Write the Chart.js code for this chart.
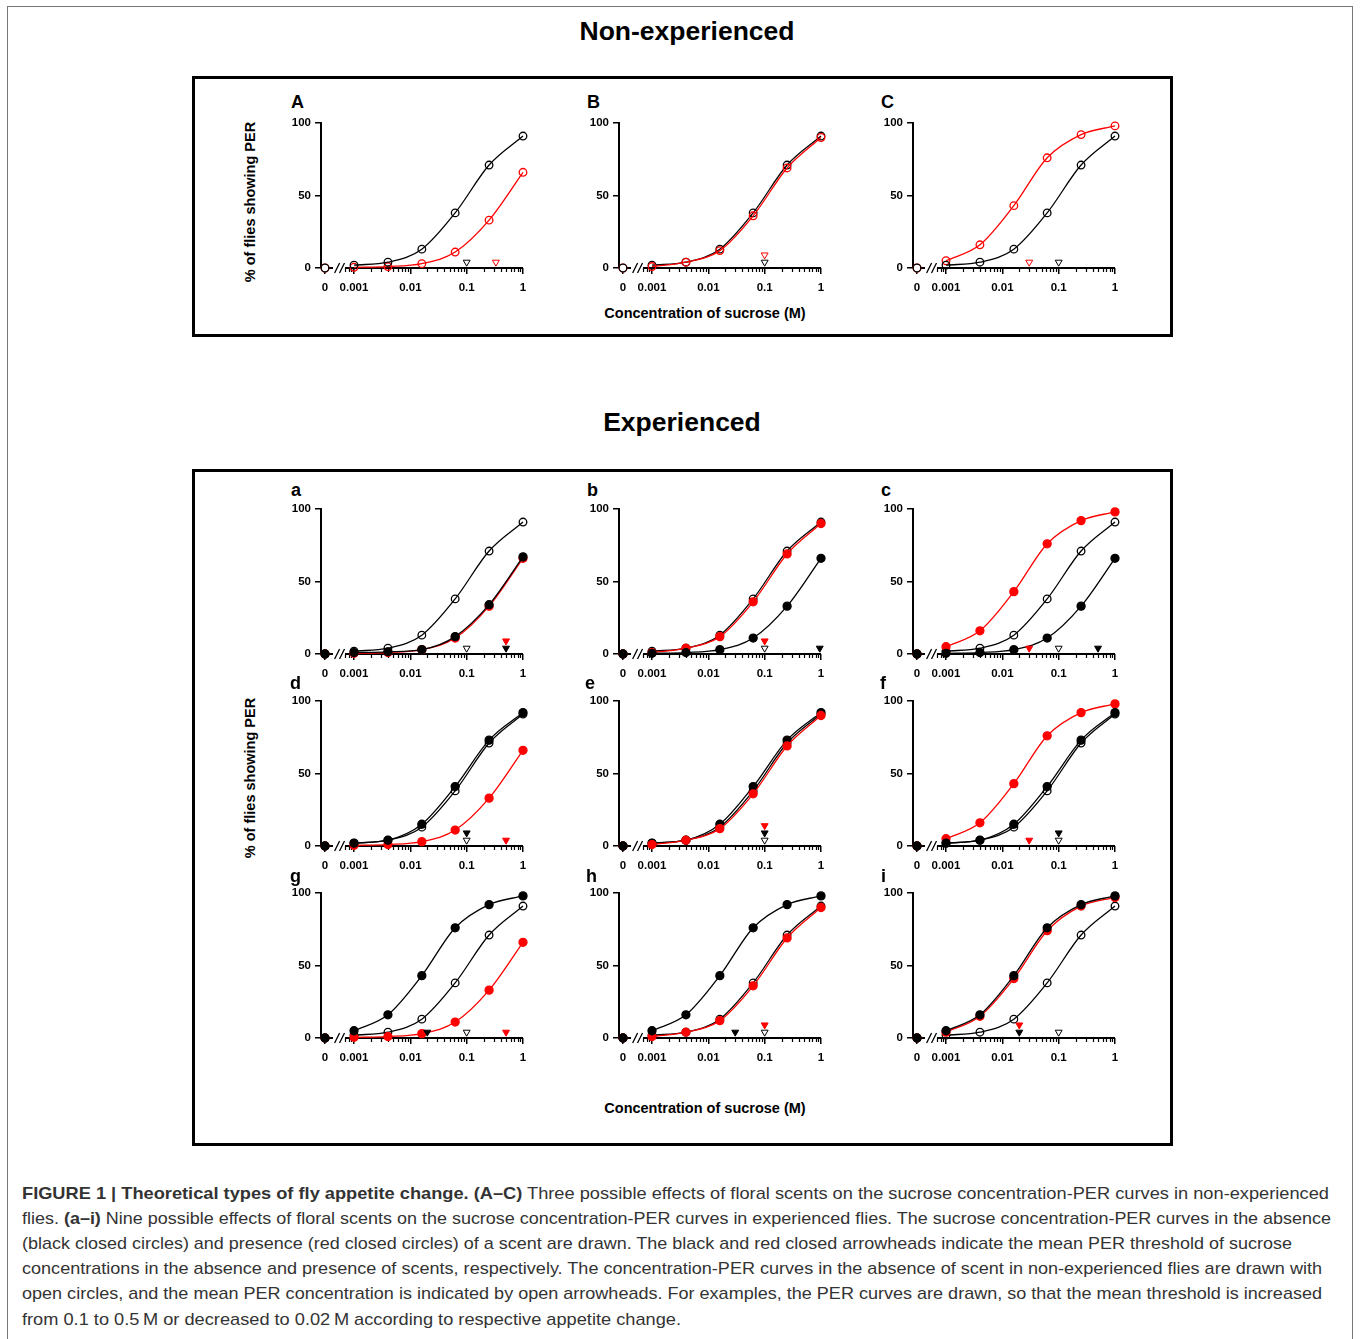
<!DOCTYPE html>
<html>
<head>
<meta charset="utf-8">
<script src="https://cdn.jsdelivr.net/npm/chart.js@4.4.0/dist/chart.umd.min.js"></script>
<style>
  body { margin: 0; background: #fff; font-family: "Liberation Sans", Arial, sans-serif; }
  #page { position: relative; width: 1360px; height: 1339px; overflow: hidden; }
  .frame { position: absolute; left: 7px; top: 6px; width: 1346px; height: 1345px; border: 1px solid #777; box-sizing: border-box; }
  .box { position: absolute; border: 3px solid #000; box-sizing: border-box; }
  .txt { position: absolute; white-space: nowrap; line-height: 1; color: #000; }
  .title { font-weight: bold; font-size: 26.5px; transform: translateX(-50%); }
  .letter { font-weight: bold; font-size: 18px; }
  .axtitle { font-weight: bold; font-size: 14.5px; transform: translateX(-50%); }
  .ytitle { font-weight: bold; font-size: 14.5px; transform: translate(-50%, -50%) rotate(-90deg); }
  .cap { font-size: 17px; color: #333; transform-origin: 0 0; }
  canvas { position: absolute; }
</style>
</head>
<body>
<div id="page">
  <div class="frame"></div>
  <div class="box" style="left:192px;top:76px;width:981px;height:261px"></div>
  <div class="box" style="left:192px;top:469px;width:981px;height:677px"></div>

  <div class="txt title" style="left:687px;top:18px">Non-experienced</div>
  <div class="txt title" style="left:682px;top:409px">Experienced</div>

  <div class="txt ytitle" style="left:250px;top:202px">% of flies showing PER</div>
  <div class="txt ytitle" style="left:250px;top:778px">% of flies showing PER</div>
  <div class="txt axtitle" style="left:705px;top:306px">Concentration of sucrose (M)</div>
  <div class="txt axtitle" style="left:705px;top:1101px">Concentration of sucrose (M)</div>

  <div id="caption"></div>
</div>

<script>
// concentrations (M), 0 is drawn left of the axis break
const conc = [0, 0.001, 0.004, 0.016, 0.0625, 0.25, 1];

// % of flies showing PER
const naive       = [0, 2, 4, 13, 38, 71, 91];   // threshold 0.1 M
const naiveUp     = [0, 2, 4, 15, 41, 73, 92];
const naiveDown   = [0, 1, 4, 12, 36, 69, 90];
const raised      = [0, 0.5, 1, 3, 11, 33, 66];  // threshold 0.5 M
const raisedUp    = [0, 1, 1.5, 3, 12, 34, 67];
const lowered     = [0, 5, 16, 43, 76, 92, 98];  // threshold 0.02 M
const loweredDown = [0, 4, 15, 41, 74, 91, 97];

const xTickConc = [0, 0.001, 0.01, 0.1, 1];
const xTickText = ['0', '0.001', '0.01', '0.1', '1'];
const yTicks = [0, 50, 100];

const RED = '#ff0000';
const BLK = '#000000';

// series: [style, colour, values]; arrows: [threshold, style, colour, stack level]
const panels = [
  { id: 'A', col: 0, row: 0,
    series: [['open', BLK, naive], ['open', RED, raised]],
    arrows: [[0.1, 'open', BLK, 0], [0.33, 'open', RED, 0]] },
  { id: 'B', col: 1, row: 0,
    series: [['open', RED, naiveDown], ['open', BLK, naive]],
    arrows: [[0.1, 'open', BLK, 0], [0.1, 'open', RED, 1]] },
  { id: 'C', col: 2, row: 0,
    series: [['open', BLK, naive], ['open', RED, lowered]],
    arrows: [[0.1, 'open', BLK, 0], [0.03, 'open', RED, 0]] },

  { id: 'a', col: 0, row: 1,
    series: [['closed', BLK, raisedUp], ['closed', RED, raised], ['open', BLK, naive]],
    arrows: [[0.1, 'open', BLK, 0], [0.5, 'closed', BLK, 0], [0.5, 'closed', RED, 1]] },
  { id: 'b', col: 1, row: 1,
    series: [['closed', BLK, raised], ['closed', RED, naiveDown], ['open', BLK, naive]],
    arrows: [[0.1, 'open', BLK, 0], [0.1, 'closed', RED, 1], [0.95, 'closed', BLK, 0]] },
  { id: 'c', col: 2, row: 1,
    series: [['closed', BLK, raised], ['closed', RED, lowered], ['open', BLK, naive]],
    arrows: [[0.1, 'open', BLK, 0], [0.03, 'closed', RED, 0], [0.5, 'closed', BLK, 0]] },

  { id: 'd', col: 0, row: 2,
    series: [['closed', BLK, naiveUp], ['closed', RED, raised], ['open', BLK, naive]],
    arrows: [[0.1, 'open', BLK, 0], [0.1, 'closed', BLK, 1], [0.5, 'closed', RED, 0]] },
  { id: 'e', col: 1, row: 2,
    series: [['closed', RED, naiveDown], ['closed', BLK, naiveUp], ['open', BLK, naive]],
    arrows: [[0.1, 'open', BLK, 0], [0.1, 'closed', BLK, 1], [0.1, 'closed', RED, 2]] },
  { id: 'f', col: 2, row: 2,
    series: [['closed', BLK, naiveUp], ['closed', RED, lowered], ['open', BLK, naive]],
    arrows: [[0.1, 'open', BLK, 0], [0.1, 'closed', BLK, 1], [0.03, 'closed', RED, 0]] },

  { id: 'g', col: 0, row: 3,
    series: [['closed', BLK, lowered], ['closed', RED, raised], ['open', BLK, naive]],
    arrows: [[0.1, 'open', BLK, 0], [0.02, 'closed', BLK, 0], [0.5, 'closed', RED, 0]] },
  { id: 'h', col: 1, row: 3,
    series: [['closed', BLK, lowered], ['closed', RED, naiveDown], ['open', BLK, naive]],
    arrows: [[0.1, 'open', BLK, 0], [0.1, 'closed', RED, 1], [0.03, 'closed', BLK, 0]] },
  { id: 'i', col: 2, row: 3,
    series: [['closed', BLK, lowered], ['closed', RED, loweredDown], ['open', BLK, naive]],
    arrows: [[0.1, 'open', BLK, 0], [0.02, 'closed', BLK, 0], [0.02, 'closed', RED, 1]] }
];

// layout
const colLeft = [321, 619, 913];
const rowTop = [123, 509, 701, 893];
const letterLeft = [[291, 587, 881], [291, 587, 881], [290, 585, 880], [290, 586, 881]];
const letterBase = [108, 496, 689, 882];
const PLOT_W = 202, PLOT_H = 145, PAD_L = 60, PAD_T = 12, PAD_R = 14, AX_H = 33;
const ARROW_Y = [4, 9, 14];

const X_MIN = -3.586;
const ZERO_POS = -3.515;
function xPos(c) { return c === 0 ? ZERO_POS : Math.log10(c); }

const FONT = '"Liberation Sans", Arial, sans-serif';

// x axis with break and log minor ticks
const brokenAxis = {
  id: 'brokenAxis',
  beforeDatasetsDraw(chart) {
    const { ctx, chartArea } = chart;
    const x = chart.scales.x;
    const y0 = chartArea.bottom;
    ctx.save();
    ctx.strokeStyle = '#000';
    ctx.lineWidth = 2;
    ctx.beginPath();
    ctx.moveTo(chartArea.left, y0);
    ctx.lineTo(x.getPixelForValue(-3.373), y0);
    ctx.moveTo(x.getPixelForValue(-3.16), y0);
    ctx.lineTo(chartArea.right, y0);
    ctx.stroke();
    ctx.lineWidth = 1.3;
    ctx.beginPath();
    [-3.30, -3.213].forEach(v => {
      const px = x.getPixelForValue(v);
      ctx.moveTo(px - 2.5, y0 + 5);
      ctx.lineTo(px + 2.5, y0 - 5);
    });
    ctx.stroke();
    ctx.lineWidth = 1.2;
    ctx.beginPath();
    for (let d = -4; d < 0; d++) {
      for (let k = 2; k < 10; k++) {
        const v = d + Math.log10(k);
        if (v < -3.16 || v > 0) continue;
        const px = Math.round(x.getPixelForValue(v)) + 0.5;
        ctx.moveTo(px, y0);
        ctx.lineTo(px, y0 + 4);
      }
    }
    ctx.stroke();
    ctx.restore();
  }
};

function curveSet(style, color, ys) {
  const pts = [];
  conc.forEach((c, i) => { if (c > 0) pts.push({ x: xPos(c), y: ys[i] }); });
  return {
    data: pts,
    showLine: true,
    borderColor: color,
    borderWidth: 1.3,
    cubicInterpolationMode: 'monotone',
    pointRadius: style === 'open' ? 3.8 : 4,
    pointBorderWidth: 1.3,
    pointBorderColor: color,
    pointBackgroundColor: style === 'open' ? 'rgba(0,0,0,0)' : color,
    clip: false
  };
}

function zeroSet(style, color, ys) {
  return {
    data: [{ x: xPos(conc[0]), y: ys[0] }],
    showLine: false,
    pointRadius: style === 'open' ? 3.8 : 4,
    pointBorderWidth: 1.3,
    pointBorderColor: color,
    pointBackgroundColor: style === 'open' ? '#fff' : color,
    clip: false
  };
}

function arrowSet(a) {
  const [thr, style, color, level] = a;
  return {
    data: [{ x: xPos(thr), y: ARROW_Y[level] }],
    showLine: false,
    pointStyle: 'triangle',
    pointRotation: 180,
    pointRadius: 4,
    pointBorderWidth: 1,
    pointBorderColor: color,
    pointBackgroundColor: style === 'open' ? '#fff' : color,
    clip: false
  };
}

const page = document.getElementById('page');

panels.forEach(p => {
  const lt = document.createElement('div');
  lt.className = 'txt letter';
  lt.textContent = p.id;
  lt.style.left = letterLeft[p.row][p.col] + 'px';
  lt.style.top = (letterBase[p.row] - 15.2) + 'px';
  page.appendChild(lt);

  const cv = document.createElement('canvas');
  cv.width = PAD_L + PLOT_W + PAD_R;
  cv.height = PAD_T + PLOT_H + AX_H;
  cv.style.left = (colLeft[p.col] - PAD_L) + 'px';
  cv.style.top = (rowTop[p.row] - PAD_T) + 'px';
  page.appendChild(cv);

  // the 0 M point: black markers sit on top of red ones
  const zeroOrder = p.series.slice().sort((s, t) => (s[1] === BLK ? 0 : 1) - (t[1] === BLK ? 0 : 1));

  const datasets = [];
  p.arrows.forEach(a => datasets.push(arrowSet(a)));
  zeroOrder.forEach(s => datasets.push(zeroSet(...s)));
  p.series.forEach(s => datasets.push(curveSet(...s)));

  new Chart(cv, {
    type: 'scatter',
    data: { datasets: datasets },
    options: {
      responsive: false,
      animation: false,
      events: [],
      layout: { padding: { top: PAD_T, right: PAD_R, left: 0, bottom: 0 } },
      plugins: { legend: { display: false }, tooltip: { enabled: false } },
      scales: {
        x: {
          type: 'linear',
          min: X_MIN,
          max: 0,
          afterBuildTicks: s => { s.ticks = xTickConc.map(c => ({ value: xPos(c) })); },
          afterFit: s => { s.height = AX_H; },
          ticks: {
            autoSkip: false, maxRotation: 0, minRotation: 0, padding: 7, color: '#000',
            font: { family: FONT, size: 11.5, weight: 'bold' },
            callback: (v, i) => xTickText[i]
          },
          grid: { drawOnChartArea: false, tickLength: 6, color: '#000', lineWidth: 1.5 },
          border: { display: false }
        },
        y: {
          min: 0,
          max: 100,
          afterBuildTicks: s => { s.ticks = yTicks.map(v => ({ value: v })); },
          afterFit: s => { s.width = PAD_L; },
          ticks: {
            padding: 4, color: '#000',
            font: { family: FONT, size: 11.5, weight: 'bold' },
            callback: v => String(v)
          },
          grid: { drawOnChartArea: false, tickLength: 6, color: '#000', lineWidth: 1.5 },
          border: { display: true, color: '#000', width: 2 }
        }
      }
    },
    plugins: [brokenAxis]
  });
});

// caption
const capLines = [
  ['<b>FIGURE 1 | Theoretical types of fly appetite change. (A–C)</b> Three possible effects of floral scents on the sucrose concentration-PER curves in non-experienced', 1307],
  ['flies. <b>(a–i)</b> Nine possible effects of floral scents on the sucrose concentration-PER curves in experienced flies. The sucrose concentration-PER curves in the absence', 1309],
  ['(black closed circles) and presence (red closed circles) of a scent are drawn. The black and red closed arrowheads indicate the mean PER threshold of sucrose', 1270],
  ['concentrations in the absence and presence of scents, respectively. The concentration-PER curves in the absence of scent in non-experienced flies are drawn with', 1300],
  ['open circles, and the mean PER concentration is indicated by open arrowheads. For examples, the PER curves are drawn, so that the mean threshold is increased', 1300],
  ['from 0.1 to 0.5\u2009M or decreased to 0.02\u2009M according to respective appetite change.', 659]
];
capLines.forEach((l, i) => {
  const d = document.createElement('div');
  d.className = 'txt cap';
  d.innerHTML = l[0];
  d.style.left = '22px';
  d.style.top = (1199 + i * 25.2 - 14.4) + 'px';
  page.appendChild(d);
  const w = d.getBoundingClientRect().width;
  d.style.transform = 'scaleX(' + (l[1] / w) + ')';
});
</script>
</body>
</html>
